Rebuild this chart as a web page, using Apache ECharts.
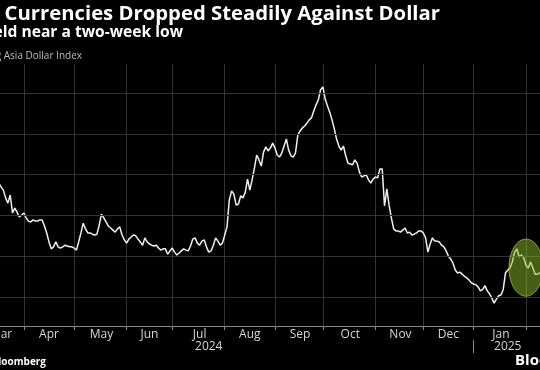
<!DOCTYPE html>
<html><head><meta charset="utf-8">
<script src="https://cdn.jsdelivr.net/npm/echarts@6/dist/echarts.min.js"></script>
<style>html,body{margin:0;padding:0;background:#000;}#c{width:540px;height:370px;}</style>
</head><body><div id="c"></div>
<script>
// ---- data ----
const startDate = '2024-02-12';   // first business day shown (plot left edge, off-canvas)
const endDate = '2025-02-12';     // last business day
const monthNames = ['Jan','Feb','Mar','Apr','May','Jun','Jul','Aug','Sep','Oct','Nov','Dec'];
const gridValues = [103, 104, 105, 106, 107, 108];
const yMin = 102.29, yMax = 108.71;
const titleText = 'Asian Currencies Dropped Steadily Against Dollar';
const subtitleText = 'Held near a two-week low';
const indexLabel = 'Bloomberg Asia Dollar Index';
const sourceText = 'Source: Bloomberg';
const logoText = 'Bloomberg';
// Bloomberg Asia Dollar Index, one value per business day
const values = [
 105.97,105.87,105.92,105.82,105.75,105.79,105.89,105.84,105.77,105.72,
 105.79,105.87,105.92,105.84,105.77,105.72,105.67,105.75,105.79,105.82,
 105.77,105.72,105.75,105.77,105.79,105.70,105.62,105.43,105.30,105.50,
 105.06,105.18,105.08,104.96,105.01,105.06,104.94,104.86,104.84,104.89,
 104.86,104.86,104.89,104.89,104.74,104.57,104.35,104.18,104.23,104.35,
 104.23,104.20,104.23,104.27,104.25,104.23,104.23,104.20,104.15,104.35,
 104.57,104.81,104.67,104.57,104.57,104.54,104.52,104.54,104.76,105.03,
 104.94,104.84,104.74,104.69,104.64,104.59,104.67,104.72,104.52,104.40,
 104.32,104.42,104.47,104.52,104.50,104.42,104.35,104.27,104.45,104.35,
 104.30,104.27,104.25,104.27,104.20,104.15,104.18,104.18,104.05,104.13,
 104.20,104.10,104.03,104.08,104.13,104.18,104.15,104.13,104.25,104.42,
 104.45,104.32,104.27,104.37,104.40,104.23,104.10,104.13,104.27,104.45,
 104.37,104.27,104.32,104.52,104.72,105.38,105.60,105.52,105.25,105.28,
 105.48,105.43,105.57,105.89,105.62,105.87,106.16,106.48,106.36,106.21,
 106.55,106.68,106.58,106.65,106.77,106.65,106.48,106.43,106.53,106.70,
 106.87,106.60,106.46,106.43,106.53,106.97,107.07,107.14,107.19,107.26,
 107.34,107.39,107.56,107.71,107.83,108.08,108.15,107.85,107.68,107.53,
 107.34,107.12,106.87,106.70,106.60,106.70,106.46,106.28,106.26,106.24,
 106.36,106.28,106.06,105.94,105.97,105.99,105.87,105.79,105.89,105.94,
 105.92,106.14,106.14,105.23,105.65,105.25,104.94,104.67,104.62,104.62,
 104.59,104.64,104.69,104.57,104.59,104.52,104.54,104.57,104.62,104.62,
 104.57,104.45,104.10,104.30,104.45,104.37,104.37,104.35,104.27,104.23,
 104.13,104.00,103.93,103.83,103.66,103.59,103.61,103.56,103.51,103.47,
 103.42,103.35,103.32,103.30,103.25,103.15,103.18,103.28,103.15,103.08,
 102.98,102.85,102.95,103.03,103.05,103.18,103.59,103.66,103.71,103.86,
 104.10,104.18,103.98,104.03,103.96,103.78,103.71,103.86,103.71,103.56,
 103.56,103.59,103.61
];
// highlighted region (ellipse annotation): centre date, value, half-width in days, half-height in value
const highlight = { date: '2025-02-03', value: 103.72, halfDays: 7.5, halfValue: 0.70 };

// ---- categories: business days ----
const cats = [];
(function(){
  const d = new Date(startDate + 'T00:00:00Z');
  const e = new Date(endDate + 'T00:00:00Z');
  while (d <= e) {
    const wd = d.getUTCDay();
    if (wd !== 0 && wd !== 6) cats.push(d.toISOString().slice(0,10));
    d.setUTCDate(d.getUTCDate() + 1);
  }
})();

const monthStarts = [];
const yearStarts = [];
for (let i = 1; i < cats.length; i++) {
  if (cats[i].slice(5,7) !== cats[i-1].slice(5,7)) monthStarts.push(i);
  if (cats[i].slice(0,4) !== cats[i-1].slice(0,4)) yearStarts.push(i);
}
const monthStartSet = new Set(monthStarts);
const yearStartSet = new Set(yearStarts);
const monthLabelMap = new Map();
for (let k = 0; k < monthStarts.length - 1; k++) {
  const a = monthStarts[k], b = monthStarts[k+1];
  monthLabelMap.set(Math.round((a + b) / 2), monthNames[parseInt(cats[a].slice(5,7),10) - 1]);
}
const yearLabelMap = new Map();
const ybounds = [0].concat(yearStarts, [cats.length - 1]);
for (let k = 0; k < ybounds.length - 1; k++) {
  const a = ybounds[k], b = ybounds[k+1];
  yearLabelMap.set(Math.ceil((a + b) / 2), cats[a].slice(0,4));
}

const FF = '"Open Sans", "Noto Sans", sans-serif';
const chart = echarts.init(document.getElementById('c'), null, {renderer:'canvas'});

const textEls = [
  {type:'text', x:440, y:14, z:50, style:{text:titleText, fill:'#ffffff', font:'bold 20.3px ' + FF, textAlign:'right', align:'right', textVerticalAlign:'middle', verticalAlign:'middle'}},
  {type:'text', x:183, y:33, z:50, style:{text:subtitleText, fill:'#ffffff', font:'bold 15.6px ' + FF, textAlign:'right', align:'right', textVerticalAlign:'middle', verticalAlign:'middle'}},
  {type:'text', x:82, y:56, z:50, style:{text:indexLabel, fill:'#bdbdbd', font:'10px ' + FF, textAlign:'right', align:'right', textVerticalAlign:'middle', verticalAlign:'middle'}},
  {type:'text', x:46, y:362, z:50, style:{text:sourceText, fill:'#ffffff', font:'bold 10px ' + FF, textAlign:'right', align:'right', textVerticalAlign:'middle', verticalAlign:'middle'}},
  {type:'text', x:515, y:361, z:50, style:{text:logoText, fill:'#ffffff', font:'bold 15px ' + FF, textAlign:'left', align:'left', textVerticalAlign:'middle', verticalAlign:'middle'}}
];

chart.setOption({
  backgroundColor:'#000000',
  animation:false,
  grid:{left:-56, right:-2, top:64, bottom:44, containLabel:false, outerBoundsMode:'none'},
  xAxis:[{
    type:'category', data:cats, boundaryGap:false,
    axisLine:{show:true, lineStyle:{color:'#8a8a8a', width:1}},
    axisTick:{show:true, interval:(i)=>monthStartSet.has(i), length:4, lineStyle:{color:'#8a8a8a'}},
    axisLabel:{show:true, interval:(i)=>monthLabelMap.has(i), formatter:(v,i)=>monthLabelMap.get(i) || '', color:'#d6d6d6', fontSize:12, fontFamily:FF, margin:3, hideOverlap:false},
    splitLine:{show:true, interval:(i)=>monthStartSet.has(i), lineStyle:{color:'#343434', width:1}}
  },{
    type:'category', data:cats, boundaryGap:false, position:'bottom', offset:14,
    axisLine:{show:false},
    axisTick:{show:true, interval:(i)=>yearStartSet.has(i), length:13, lineStyle:{color:'#8a8a8a'}},
    axisLabel:{show:true, interval:(i)=>yearLabelMap.has(i), formatter:(v,i)=>yearLabelMap.get(i) || '', color:'#d6d6d6', fontSize:12, fontFamily:FF, margin:1, hideOverlap:false},
    splitLine:{show:false}
  }],
  yAxis:{type:'value', min:yMin, max:yMax, show:true, axisLine:{show:false}, axisTick:{show:false}, axisLabel:{show:false}, splitLine:{show:false}},
  series:[{
    type:'line', data:[], z:1, silent:true,
    markLine:{silent:true, symbol:['none','none'], label:{show:false}, animation:false,
      lineStyle:{color:'#343434', type:'solid', width:1},
      data:gridValues.map(v=>({yAxis:v}))}
  },{
    type:'line', data:values, z:3, showSymbol:false, symbol:'none', smooth:false, silent:true,
    lineStyle:{color:'#f0f0f0', width:1.5}
  }],
  graphic:textEls
});

// ellipse annotation positioned through the axes' scales
const cP = chart.convertToPixel({xAxisIndex:0, yAxisIndex:0}, [highlight.date, highlight.value]);
const p0 = chart.convertToPixel({xAxisIndex:0, yAxisIndex:0}, [cats[0], highlight.value]);
const p1 = chart.convertToPixel({xAxisIndex:0, yAxisIndex:0}, [cats[cats.length-1], highlight.value + highlight.halfValue]);
const pxPerDay = (p1[0] - p0[0]) / (cats.length - 1);
chart.setOption({graphic: textEls.concat([{
  type:'ellipse', z:20,
  shape:{cx:cP[0], cy:cP[1], rx:highlight.halfDays * pxPerDay, ry:Math.abs(cP[1] - p1[1])},
  style:{fill:'rgba(140,190,40,0.5)', stroke:'rgba(150,200,60,0.75)', lineWidth:1}
}])});
</script>
</body></html>
